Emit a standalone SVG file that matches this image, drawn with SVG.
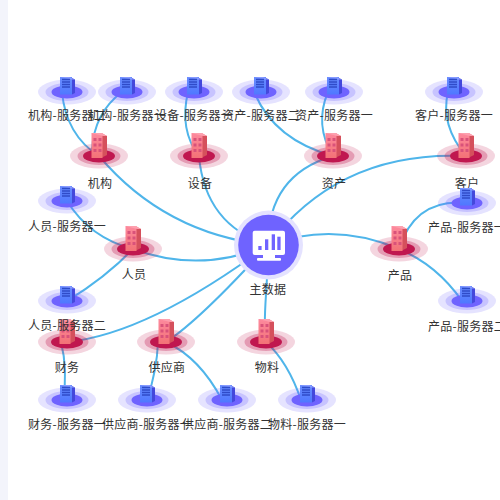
<svg xmlns="http://www.w3.org/2000/svg" width="500" height="500" viewBox="0 0 500 500">
<style>
text{font-family:"Noto Sans CJK SC","Liberation Sans",sans-serif;font-size:12px;fill:#333;text-anchor:middle;letter-spacing:.25px}
.e{fill:none;stroke:#4fb5ea;stroke-width:2;stroke-linecap:round}
.o1{fill:#6f63ff;opacity:.18}.o2{fill:#6f63ff;opacity:.25}.o3{fill:#6f63ff}
.r1{fill:#c0174f;opacity:.18}.r2{fill:#c0174f;opacity:.3}.r3{fill:#c0174f}
</style>
<defs>
<linearGradient id="sb" x1="0" y1="0" x2="0" y2="1"><stop offset="0" stop-color="#6a8dff"/><stop offset="1" stop-color="#4f78ff"/></linearGradient>
<linearGradient id="bb" x1="0" y1="0" x2="0" y2="1"><stop offset="0" stop-color="#fd8a9e"/><stop offset="1" stop-color="#f37276"/></linearGradient>
<g id="srv">
<ellipse class="o1" rx="29" ry="12.5"/><ellipse class="o2" rx="21.5" ry="9"/><ellipse class="o3" rx="15.5" ry="6.5"/>
<path d="M5,-14L8,-12.5V1L5,2.5Z" fill="#4448dc"/>
<rect x="-7" y="-15" width="12" height="17.5" fill="url(#sb)"/>
<path d="M-7,-15H2L8,-12.5H5" fill="#8a9cff"/>
<path d="M-5,-12.5h8M-5,-10h8M-5,-7.5h8M-5,-5h8" stroke="#2f4bc8" stroke-width="1.3"/>
</g>
<g id="bld">
<ellipse class="r1" rx="29" ry="12.5"/><ellipse class="r2" rx="21.5" ry="9"/><ellipse class="r3" rx="16" ry="6.5"/>
<path d="M2,-23L8,-20V-1L2,2Z" fill="#d5505c"/>
<rect x="-7.5" y="-23" width="11" height="25" fill="url(#bb)"/>
<path d="M-7.5,-23H3L8,-20H4Z" fill="#fda0ae"/>
<g fill="#d9527a"><rect x="-5.5" y="-18" width="3" height="3"/><rect x="-.5" y="-18" width="3" height="3"/><rect x="-5.5" y="-12.5" width="3" height="3"/><rect x="-.5" y="-12.5" width="3" height="3"/><rect x="-5.5" y="-7" width="3" height="3"/><rect x="-.5" y="-7" width="3" height="3"/></g>
</g>
</defs>
<rect width="500" height="500" fill="#f3f4fb"/>
<rect x="8" y="-8" width="500" height="516" rx="6" fill="#fff"/>
<g id="connectors">
<path class="e" d="M268,245Q165,234 99,156"/>
<path class="e" d="M268,245Q205,225 199,156"/>
<path class="e" d="M268,245Q268,175 333,156"/>
<path class="e" d="M268,245Q340,150 466,156"/>
<path class="e" d="M268,245Q334,221 399,249"/>
<path class="e" d="M268,245C268,290 262,320 266,342"/>
<path class="e" d="M268,245Q201,274 133,249"/>
<path class="e" d="M268,245Q148,334 67,342"/>
<path class="e" d="M268,245Q200,320 166,342"/>
<path class="e" d="M62,92Q66,135 99,156"/>
<path class="e" d="M122,92Q94,113 92,150"/>
<path class="e" d="M188,92Q179,130 199,156"/>
<path class="e" d="M255,94Q275,140 333,156"/>
<path class="e" d="M328,92Q314,125 333,156"/>
<path class="e" d="M448,92Q440,125 466,156"/>
<path class="e" d="M67,201Q90,238 133,249"/>
<path class="e" d="M67,301Q105,278 133,249"/>
<path class="e" d="M61,342Q68,370 63,400"/>
<path class="e" d="M158,342Q157,370 147,400"/>
<path class="e" d="M166,342Q200,358 222,400"/>
<path class="e" d="M266,342Q288,362 301,400"/>
<path class="e" d="M399,249Q415,198 467,203"/>
<path class="e" d="M399,249Q437,265 462,301"/>
</g>
<g id="n-main"><circle cx="268.500" cy="245" r="34.500" fill="#e4e2ff"/><circle cx="268.500" cy="245" r="30.300" fill="#6f63ff"/>
<rect x="252.700" y="230.700" width="32.300" height="24.300" rx="2" fill="#fff"/>
<rect x="263" y="255" width="12" height="3" fill="#fff"/><rect x="257" y="258" width="24" height="2.700" rx="1" fill="#fff"/>
<g fill="#6f63ff"><rect x="258.300" y="246" width="3.300" height="4"/><rect x="265" y="239.300" width="3.300" height="10.700"/><rect x="271.700" y="234.300" width="3.300" height="15.700"/><rect x="277.300" y="236.700" width="3.300" height="13.300"/></g>
<text x="268" y="294">主数据</text></g>
<g id="n-jg"><use href="#bld" x="99" y="156"/><text x="100" y="188">机构</text></g>
<g id="n-sb"><use href="#bld" x="199" y="156"/><text x="200" y="188">设备</text></g>
<g id="n-zc"><use href="#bld" x="333" y="156"/><text x="334" y="188">资产</text></g>
<g id="n-kh"><use href="#bld" x="466" y="156"/><text x="467" y="188">客户</text></g>
<g id="n-ry"><use href="#bld" x="133" y="249"/><text x="134" y="279">人员</text></g>
<g id="n-cp"><use href="#bld" x="399" y="249"/><text x="400" y="280">产品</text></g>
<g id="n-cw"><use href="#bld" x="67" y="342"/><text x="67" y="372">财务</text></g>
<g id="n-gys"><use href="#bld" x="166" y="342"/><text x="167" y="372">供应商</text></g>
<g id="n-wl"><use href="#bld" x="266" y="342"/><text x="267" y="372">物料</text></g>
<g id="s-jg2"><use href="#srv" x="67" y="92"/><text x="67" y="120">机构-服务器二</text></g>
<g id="s-jg1"><use href="#srv" x="127" y="92"/><text x="127" y="120">机构-服务器一</text></g>
<g id="s-sb1"><use href="#srv" x="194" y="92"/><text x="194" y="120">设备-服务器一</text></g>
<g id="s-zc2"><use href="#srv" x="261" y="92"/><text x="261" y="120">资产-服务器二</text></g>
<g id="s-zc1"><use href="#srv" x="334" y="92"/><text x="334" y="120">资产-服务器一</text></g>
<g id="s-kh1"><use href="#srv" x="454" y="92"/><text x="454" y="120">客户-服务器一</text></g>
<g id="s-ry1"><use href="#srv" x="67" y="201"/><text x="67" y="231">人员-服务器一</text></g>
<g id="s-ry2"><use href="#srv" x="67" y="301"/><text x="67" y="330">人员-服务器二</text></g>
<g id="s-cw1"><use href="#srv" x="67" y="400"/><text x="67" y="429">财务-服务器一</text></g>
<g id="s-gys1"><use href="#srv" x="147" y="400"/><text x="147" y="429">供应商-服务器一</text></g>
<g id="s-gys2"><use href="#srv" x="227" y="400"/><text x="227" y="429">供应商-服务器二</text></g>
<g id="s-wl1"><use href="#srv" x="307" y="400"/><text x="307" y="429">物料-服务器一</text></g>
<g id="s-cp1"><use href="#srv" x="467" y="203"/><text x="467" y="232">产品-服务器一</text></g>
<g id="s-cp2"><use href="#srv" x="467" y="301"/><text x="467" y="331">产品-服务器二</text></g>
</svg>
